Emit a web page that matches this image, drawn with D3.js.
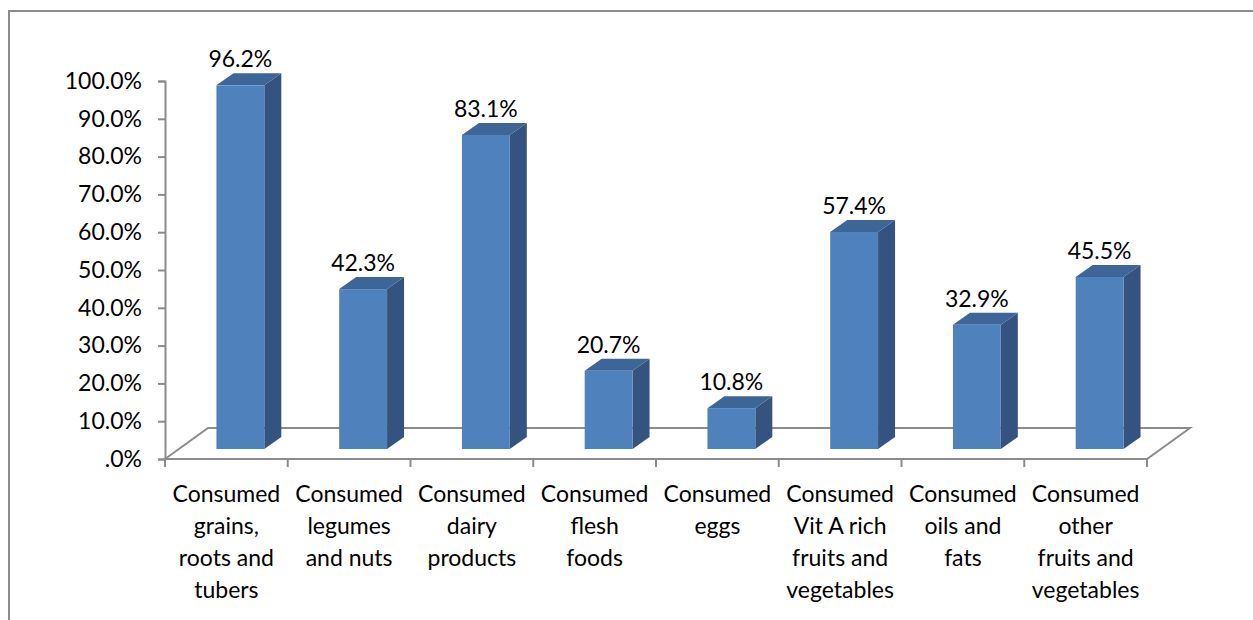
<!DOCTYPE html>
<html>
<head>
<meta charset="utf-8">
<script src="https://cdn.jsdelivr.net/npm/d3@7"></script>
<style>
  html, body { margin: 0; padding: 0; background: #fff; }
  svg { display: block; }
  text { font-family: Lato, "Open Sans", sans-serif; fill: #000; }
</style>
</head>
<body>
<svg id="chart" width="1253" height="620"></svg>
<script>
// Food groups consumed (share of respondents)
const categories = [
  "Consumed grains, roots and tubers",
  "Consumed legumes and nuts",
  "Consumed dairy products",
  "Consumed flesh foods",
  "Consumed eggs",
  "Consumed Vit A rich fruits and vegetables",
  "Consumed oils and fats",
  "Consumed other fruits and vegetables"
];
const categoryLines = [
  ["Consumed", "grains,", "roots and", "tubers"],
  ["Consumed", "legumes", "and nuts"],
  ["Consumed", "dairy", "products"],
  ["Consumed", "flesh", "foods"],
  ["Consumed", "eggs"],
  ["Consumed", "Vit A rich", "fruits and", "vegetables"],
  ["Consumed", "oils and", "fats"],
  ["Consumed", "other", "fruits and", "vegetables"]
];
const values = [0.962, 0.423, 0.831, 0.207, 0.108, 0.574, 0.329, 0.455];
const tickValues = [0, 0.1, 0.2, 0.3, 0.4, 0.5, 0.6, 0.7, 0.8, 0.9, 1.0];
const tickLabels = [".0%", "10.0%", "20.0%", "30.0%", "40.0%", "50.0%", "60.0%", "70.0%", "80.0%", "90.0%", "100.0%"];

const svg = d3.select("#chart");
const gridColor = "#8c8c8c";

// Outer chart frame (runs past the right and bottom edges)
svg.append("rect")
  .attr("x", 9).attr("y", 11)
  .attr("width", 1270).attr("height", 640)
  .attr("fill", "none")
  .attr("stroke", gridColor)
  .attr("stroke-width", 2);

// Front plane geometry
const x = d3.scaleBand().domain(categories).range([165, 1147]);
const y = d3.scaleLinear().domain([0, 1]).range([459, 81]);

// Oblique depth of the floor and of each bar
const floorDepth = [43, -31];
const barFront = [14, -10];
const barDepth = [17, -12];
const barWidth = x.bandwidth() * 0.39;

// Floor outline
const floorY = y(0);
const x0 = x.range()[0], x1 = x.range()[1];
svg.append("path")
  .attr("d", `M${x0},${floorY} L${x0 + floorDepth[0]},${floorY + floorDepth[1]} L${x1 + floorDepth[0]},${floorY + floorDepth[1]} L${x1},${floorY} Z`)
  .attr("fill", "none")
  .attr("stroke", gridColor)
  .attr("stroke-width", 2);

// Category ticks along the front edge
svg.append("g")
  .selectAll("line")
  .data(d3.range(categories.length + 1))
  .join("line")
  .attr("x1", i => x0 + i * x.step())
  .attr("x2", i => x0 + i * x.step())
  .attr("y1", floorY)
  .attr("y2", floorY + 8)
  .attr("stroke", gridColor)
  .attr("stroke-width", 2);

// Value axis
const yAxis = d3.axisLeft(y)
  .tickValues(tickValues)
  .tickFormat((d, i) => tickLabels[i])
  .tickSize(7)
  .tickPadding(16);
const axisG = svg.append("g")
  .attr("transform", `translate(${x0},0)`)
  .call(yAxis);
axisG.select(".domain").attr("stroke", gridColor).attr("stroke-width", 2);
axisG.selectAll(".tick line").attr("stroke", gridColor).attr("stroke-width", 2);
axisG.selectAll(".tick text")
  .attr("font-family", "Lato, sans-serif")
  .attr("font-size", 23)
  .attr("fill", "#000");

// Bars: front, side and top faces
const bars = svg.append("g")
  .selectAll("g")
  .data(categories.map((c, i) => ({ c, v: values[i] })))
  .join("g");

function corners(d) {
  const left = x(d.c) + (x.bandwidth() - barWidth) / 2 + barFront[0];
  const right = left + barWidth;
  const bottom = y(0) + barFront[1];
  const top = y(d.v) + barFront[1];
  return { left, right, bottom, top };
}

bars.append("path")
  .attr("fill", "#34547f")
  .attr("d", d => {
    const k = corners(d);
    return `M${k.right},${k.bottom} L${k.right + barDepth[0]},${k.bottom + barDepth[1]} L${k.right + barDepth[0]},${k.top + barDepth[1]} L${k.right},${k.top} Z`;
  });

bars.append("path")
  .attr("fill", "#3d6598")
  .attr("d", d => {
    const k = corners(d);
    return `M${k.left},${k.top} L${k.right},${k.top} L${k.right + barDepth[0]},${k.top + barDepth[1]} L${k.left + barDepth[0]},${k.top + barDepth[1]} Z`;
  });

bars.append("rect")
  .attr("fill", "#4f81bd")
  .attr("x", d => corners(d).left)
  .attr("y", d => corners(d).top)
  .attr("width", barWidth)
  .attr("height", d => corners(d).bottom - corners(d).top);

// Value labels
bars.append("text")
  .attr("text-anchor", "middle")
  .attr("font-size", 23)
  .attr("x", d => { const k = corners(d); return (k.left + k.right) / 2; })
  .attr("y", d => corners(d).top + barDepth[1] - 6)
  .text(d => d3.format(".1%")(d.v));

// Category labels
const catG = svg.append("g")
  .selectAll("text")
  .data(categories)
  .join("text")
  .attr("text-anchor", "middle")
  .attr("font-size", 23)
  .attr("x", d => x(d) + x.bandwidth() / 2)
  .attr("y", 502);
catG.selectAll("tspan")
  .data((d, i) => categoryLines[i])
  .join("tspan")
  .attr("x", function () { return this.parentNode.getAttribute("x"); })
  .attr("dy", (d, j) => j === 0 ? 0 : 32)
  .text(d => d);
</script>
</body>
</html>
